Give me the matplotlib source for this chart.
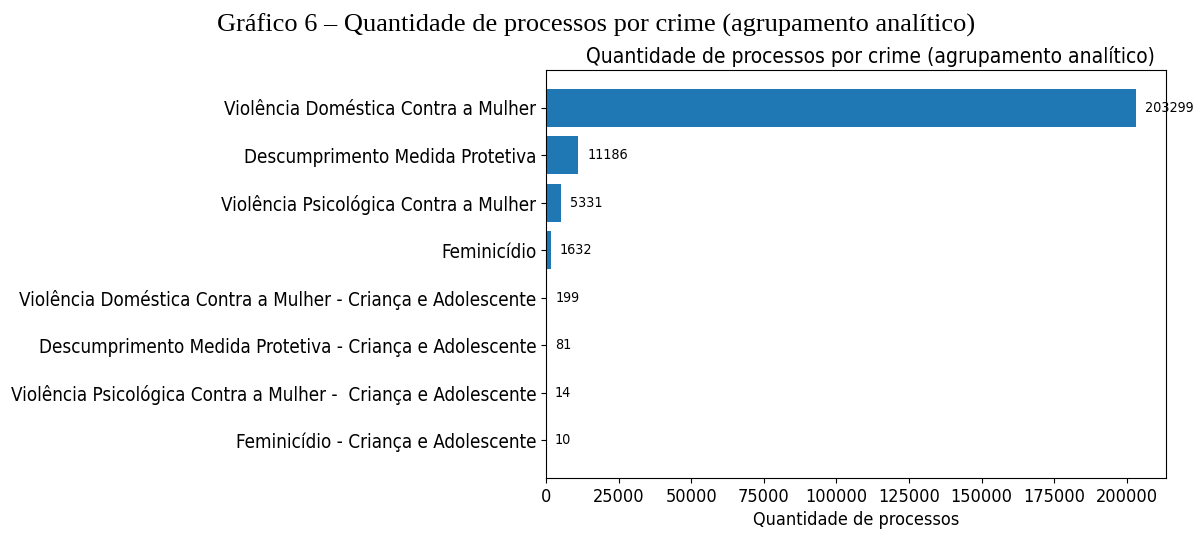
import matplotlib.pyplot as plt

plt.rcParams['font.family'] = 'DejaVu Sans'
plt.rcParams['font.stretch'] = 'condensed'

crimes = [
    'Violência Doméstica Contra a Mulher',
    'Descumprimento Medida Protetiva',
    'Violência Psicológica Contra a Mulher',
    'Feminicídio',
    'Violência Doméstica Contra a Mulher - Criança e Adolescente',
    'Descumprimento Medida Protetiva - Criança e Adolescente',
    'Violência Psicológica Contra a Mulher -  Criança e Adolescente',
    'Feminicídio - Criança e Adolescente',
]
processos = [203299, 11186, 5331, 1632, 199, 81, 14, 10]

fig = plt.figure(figsize=(12.01, 5.36), dpi=100)
ax = fig.add_axes([0.4546, 0.1082, 0.5162, 0.761])

ax.barh(crimes, processos, color='#1f77b4')
ax.invert_yaxis()

for i, v in enumerate(processos):
    ax.text(v + 3000, i, str(v), va='center', fontsize=10.3)

ax.tick_params(axis='y', labelsize=13.5)
ax.tick_params(axis='x', labelsize=13)
ax.set_xlabel('Quantidade de processos', fontsize=13)
ax.set_title('Quantidade de processos por crime (agrupamento analítico)',
             fontsize=15, pad=5, x=0.5226)

fig.text(0.4967, 1 - 32 / 536, 'Gráfico 6 – Quantidade de processos por crime (agrupamento analítico)',
         family='Liberation Serif', stretch='normal', fontsize=19, ha='center', va='baseline')

fig.savefig('out.png', dpi=100)
